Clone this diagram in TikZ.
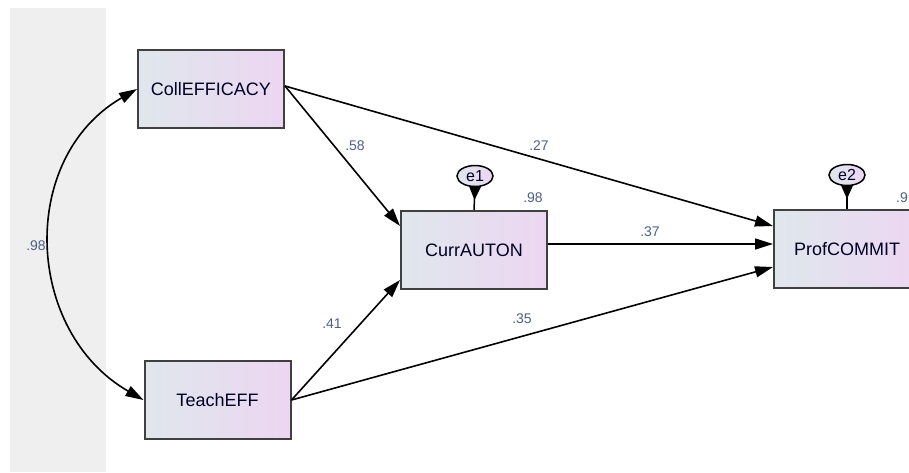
\documentclass[tikz,border=0pt]{standalone}
\usepackage{fontspec}
\setmainfont{Liberation Sans}
\usetikzlibrary{arrows.meta,shapes.geometric}
\definecolor{boxleft}{HTML}{DFE7EC}
\definecolor{boxright}{HTML}{ECD6F2}
\definecolor{coefblue}{HTML}{4F5F85}
\definecolor{panelgrey}{HTML}{EFEFEF}
\tikzset{
    obs/.style={draw=black!75, line width=2pt, minimum width=146pt, minimum height=78pt, inner sep=0pt,
        left color=boxleft, right color=boxright, text=black!85!blue, font=\fontsize{18}{20}\selectfont},
    err/.style={ellipse, draw=black, line width=1.5pt, minimum width=36pt, minimum height=21pt, inner sep=0pt,
        left color=boxleft, right color=boxright, text=black!85!blue, font=\fontsize{16}{18}\selectfont},
    coef/.style={text=coefblue, inner sep=0pt, font=\fontsize{14}{16}\selectfont},
    reg/.style={line width=1.6pt, -{Triangle[length=18pt,width=11pt]}},
    cov/.style={line width=1.6pt, {Triangle[length=18pt,width=11pt]}-{Triangle[length=18pt,width=11pt]}},
    errarrow/.style={line width=1.5pt, shorten >=10pt, -{Triangle[length=14pt,width=12pt]}}
}
\begin{document}
\begin{tikzpicture}[x=1pt,y=1pt]
    \useasboundingbox (0,0) rectangle (909,-472);
    \clip (0,0) rectangle (909,-472);
    \fill[panelgrey] (10,-8) rectangle (106,-472);
    \node [obs] (coll) at (211,-89) {CollEFFICACY};
    \node [obs] (teach) at (217.5,-400) {TeachEFF};
    \node [obs] (curr) at (474,-250) {CurrAUTON};
    \node [obs] (prof) at (847,-249) {ProfCOMMIT};
    \node [err] (e1) at (475,-176) {e1};
    \node [err] (e2) at (847,-175) {e2};
    \draw [cov] (coll.west) to[out=210, in=150, looseness=1.13] (teach.west);
    \draw [reg] ([yshift=3pt]coll.east) -- ([yshift=24pt]curr.west);
    \draw [reg] ([yshift=3pt]coll.east) -- ([yshift=23pt]prof.west);
    \draw [reg] (teach.east) -- ([yshift=-30pt]curr.west);
    \draw [reg] (teach.east) -- ([yshift=-18pt]prof.west);
    \draw [reg] ([yshift=6pt]curr.east) -- ([yshift=5pt]prof.west);
    \draw [line width=1.5pt] (e1.south) -- (curr.north);
    \draw [errarrow] (e1.south) -- (curr.north);
    \draw [line width=1.5pt] (e2.south) -- (prof.north);
    \draw [errarrow] (e2.south) -- (prof.north);
    \node [coef] (r1) at (36,-246) {.98};
    \node [coef] (b1) at (355,-146) {.58};
    \node [coef] (b2) at (539,-146) {.27};
    \node [coef] (b3) at (650,-232) {.37};
    \node [coef] (b4) at (332,-324) {.41};
    \node [coef] (b5) at (522,-319) {.35};
    \node [coef] (rsq1) at (533,-198) {.98};
    \node [coef, anchor=west] (rsq2) at (896,-198) {.9};
\end{tikzpicture}
\end{document}
